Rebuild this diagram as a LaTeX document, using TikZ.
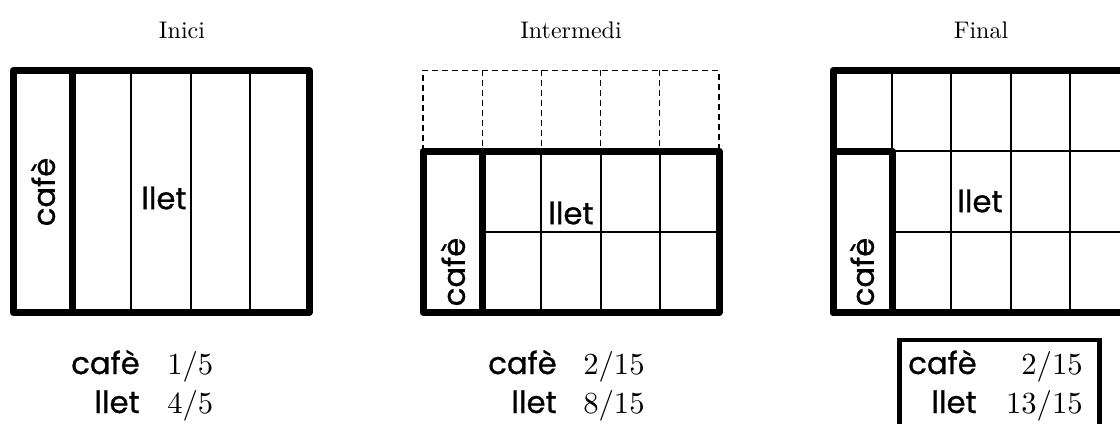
\documentclass[tikz,border=0pt]{standalone}
\usepackage{fontspec}
\usepackage{graphicx}
\newfontfamily\comic{Poppins}[FakeBold=0.8]
\newcommand{\tscale}[1]{\scalebox{1.8}{#1}}
\newcommand{\fscale}[1]{\scalebox{2.3}{#1}}
\begin{document}
\begin{tikzpicture}[x=0.75pt,y=-0.75pt,
  thickline/.style={line width=5.25pt,line join=round,line cap=round},
  thinline/.style={line width=1.5pt},
  dashline/.style={line width=1pt,dash pattern=on 4.5pt off 3pt},
  lbl/.style={font=\comic\fontsize{23}{23}\selectfont,inner sep=0pt},
  frac/.style={font=\normalsize,inner sep=0pt},
  ttl/.style={font=\normalsize,inner sep=0pt},
  boxline/.style={line width=3.4pt}]
\useasboundingbox (0,0) rectangle (1120,424);

% ---------- Inici ----------
\node[ttl] (t1) at (182,30) {\tscale{Inici}};
\foreach \x in {131.4,190.6,249.8} \draw[thinline] (\x,70.5) -- (\x,312.5);
\draw[thickline] (13,70.5) rectangle (309,312.5);
\draw[thickline] (72.2,70.5) -- (72.2,312.5);
\node[lbl,rotate=90] (c1in) at (43,192) {cafè};
\node[lbl] (l1in) at (164,198) {llet};
\node[lbl,anchor=base east] (c1) at (140,374) {cafè};
\node[frac,anchor=base west] (f1) at (167,374) {\fscale{$1/5$}};
\node[lbl,anchor=base east] (l1) at (140,413) {llet};
\node[frac,anchor=base west] (g1) at (167,413) {\fscale{$4/5$}};

% ---------- Intermedi ----------
\node[ttl] (t2) at (571,30) {\tscale{Intermedi}};
\draw[dashline] (423,151.2) -- (423,70.5) -- (719,70.5) -- (719,151.2);
\foreach \x in {482.2,541.4,600.6,659.8} \draw[dashline] (\x,70.5) -- (\x,151.2);
\foreach \x in {541.4,600.6,659.8} \draw[thinline] (\x,151.2) -- (\x,312.5);
\draw[thinline] (482.2,231.8) -- (719,231.8);
\draw[thickline] (423,151.2) rectangle (719,312.5);
\draw[thickline] (482.2,151.2) -- (482.2,312.5);
\node[lbl,rotate=90] (c2in) at (453,272) {cafè};
\node[lbl] (l2in) at (571,213) {llet};
\node[lbl,anchor=base east] (c2) at (557,374) {cafè};
\node[frac,anchor=base west] (f2) at (583,374) {\fscale{$2/15$}};
\node[lbl,anchor=base east] (l2) at (557,413) {llet};
\node[frac,anchor=base west] (g2) at (583,413) {\fscale{$8/15$}};

% ---------- Final ----------
\node[ttl] (t3) at (981,30) {\tscale{Final}};
\draw[thinline] (892.2,70.5) -- (892.2,151.2);
\foreach \x in {951.4,1010.6,1069.8} \draw[thinline] (\x,70.5) -- (\x,312.5);
\draw[thinline] (892.2,151.2) -- (1129,151.2);
\draw[thinline] (892.2,231.8) -- (1129,231.8);
\draw[thickline] (833,70.5) rectangle (1129,312.5);
\draw[thickline] (833,151.2) rectangle (892.2,312.5);
\node[lbl,rotate=90] (c3in) at (862,272) {cafè};
\node[lbl] (l3in) at (980,201) {llet};
\draw[boxline] (899.5,340) rectangle (1099.5,440);
\node[lbl,anchor=base east] (c3) at (977,374) {cafè};
\node[frac,anchor=base east] (f3) at (1083,374) {\fscale{$2/15$}};
\node[lbl,anchor=base east] (l3) at (977,413) {llet};
\node[frac,anchor=base east] (g3) at (1083,413) {\fscale{$13/15$}};
\end{tikzpicture}
\end{document}
